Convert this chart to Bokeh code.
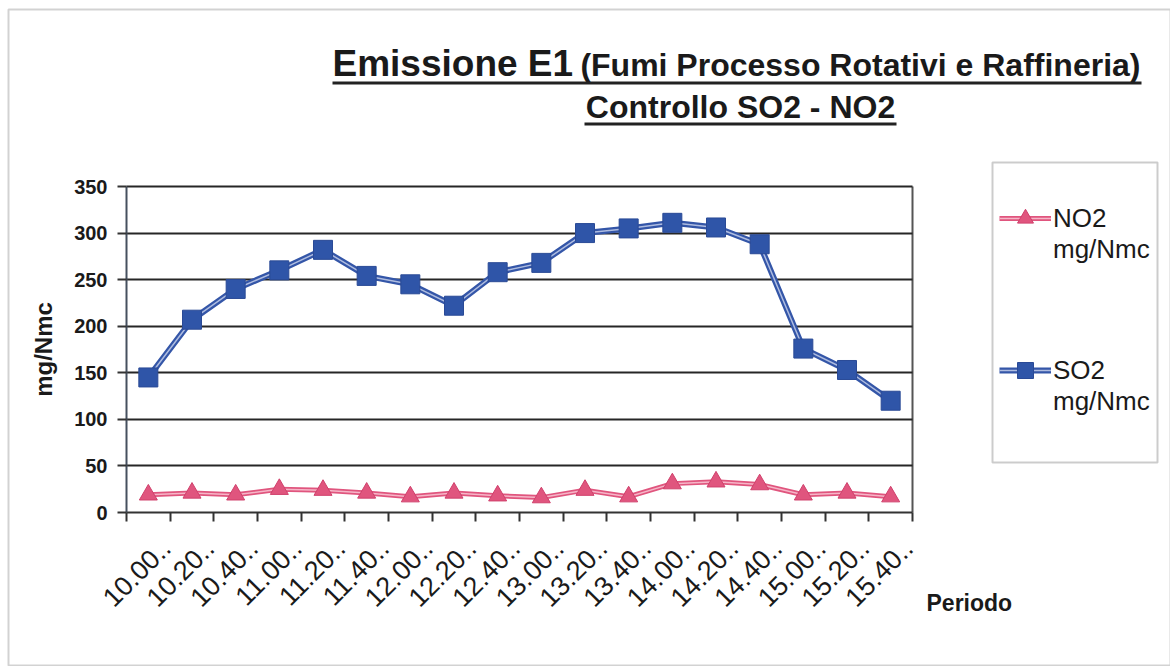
import math
from bokeh.plotting import figure
from bokeh.models import (ColumnDataSource, Label, BoxAnnotation, Legend, LegendItem,
                          FixedTicker, Range1d)
from bokeh.embed import file_html
from bokeh.resources import INLINE

# ---- data ----
periods = ["10.00..", "10.20..", "10.40..", "11.00..", "11.20..", "11.40..",
           "12.00..", "12.20..", "12.40..", "13.00..", "13.20..", "13.40..",
           "14.00..", "14.20..", "14.40..", "15.00..", "15.20..", "15.40.."]
so2 = [145, 207, 240, 260, 282, 254, 245, 222, 258, 268, 300, 305, 311, 306, 288, 176, 153, 120]
no2 = [19, 21, 19, 25, 24, 21, 17, 21, 18, 16, 24, 17, 31, 33, 30, 19, 21, 17]
y_ticks = [0, 50, 100, 150, 200, 250, 300, 350]
y_max = 350

n = len(periods)
xpos = [i + 0.5 for i in range(n)]
src = ColumnDataSource(dict(x=xpos, so2=so2, no2=no2))

# ---- layout constants (pixels) ----
W, H = 1170, 666
OX, OY = 1, 1                       # canvas offset in the page
DL, DR, DT, DB = 127, 913, 187, 513  # data area in page pixels
LABEL_SHIFT = 0.4                   # rotated labels sit a little right of the centre


def sx(X):
    return X - OX


def sy(Y):
    return H - (Y - OY)


ppx = (DR - DL) / n
ppy = (DB - DT) / y_max
x_rng = Range1d(-sx(DL) / ppx, n + (W - sx(DR)) / ppx)
y_rng = Range1d(-(H - sx(DB)) / ppy, y_max + sx(DT) / ppy)

SANS = "Liberation Sans"
INK = "#1a1a1a"

p = figure(width=W, height=H, output_backend="svg", toolbar_location=None,
           x_range=x_rng, y_range=y_rng,
           min_border_left=0, min_border_right=0, min_border_top=0, min_border_bottom=0,
           background_fill_color="white", border_fill_color="white")
p.outline_line_color = None

# grid: horizontal lines across the data area, right border of data area
p.ygrid.ticker = FixedTicker(ticks=y_ticks[1:])
p.ygrid.grid_line_color = "#262626"
p.ygrid.grid_line_width = 2
p.xgrid.ticker = FixedTicker(ticks=[n])
p.xgrid.grid_line_color = "#555555"
p.xgrid.grid_line_width = 2
try:
    p.ygrid.cross_bounds = (0, n)
    p.xgrid.cross_bounds = (0, y_max)
except Exception:
    p.ygrid.visible = False
    p.xgrid.visible = False
    p.segment(x0=0, x1=n, y0=y_ticks[1:], y1=y_ticks[1:], line_color="#262626", line_width=2)
    p.segment(x0=n, x1=n, y0=0, y1=y_max, line_color="#555555", line_width=2)

# y axis
p.yaxis.fixed_location = 0
p.yaxis.bounds = (0, y_max)
p.yaxis.ticker = FixedTicker(ticks=y_ticks)
p.yaxis.axis_line_color = "#46505f"
p.yaxis.axis_line_width = 2
p.yaxis.major_tick_line_color = "#333333"
p.yaxis.major_tick_line_width = 2
p.yaxis.major_tick_out = 9
p.yaxis.major_tick_in = 0
p.yaxis.minor_tick_line_color = None
p.yaxis.major_label_text_font = SANS
p.yaxis.major_label_text_font_style = "bold"
p.yaxis.major_label_text_font_size = "20px"
p.yaxis.major_label_text_color = INK
p.yaxis.major_label_standoff = 10
p.yaxis.axis_label = "mg/Nmc"
p.yaxis.axis_label_text_font = SANS
p.yaxis.axis_label_text_font_style = "bold"
p.yaxis.axis_label_text_font_size = "24px"
p.yaxis.axis_label_text_color = INK
p.yaxis.axis_label_standoff = 14

# x axis: labels near category centres, tick marks at category boundaries
label_pos = [x + LABEL_SHIFT for x in xpos]
p.xaxis.fixed_location = 0
p.xaxis.bounds = (0, n)
p.xaxis.ticker = FixedTicker(ticks=label_pos, minor_ticks=list(range(n + 1)))
p.xaxis.major_label_overrides = {x: lab for x, lab in zip(label_pos, periods)}
p.xaxis.major_label_orientation = math.pi / 4
p.xaxis.axis_line_color = "#333333"
p.xaxis.axis_line_width = 2
p.xaxis.major_tick_line_color = None
p.xaxis.major_tick_out = 0
p.xaxis.major_tick_in = 0
p.xaxis.minor_tick_line_color = "#333333"
p.xaxis.minor_tick_line_width = 2
p.xaxis.minor_tick_out = 9
p.xaxis.minor_tick_in = 0
p.xaxis.major_label_text_font = SANS
p.xaxis.major_label_text_font_size = "27px"
p.xaxis.major_label_text_color = INK
p.xaxis.major_label_standoff = 22

# series
so2_line = p.line("x", "so2", source=src, line_color="#3456A8", line_width=6)
so2_in = p.line("x", "so2", source=src, line_color="#AEBCE0", line_width=1.5)
so2_mk = p.scatter("x", "so2", source=src, marker="square", size=19,
                   fill_color="#2F55A8", line_color="#2A4A96", line_width=1)

no2_line = p.line("x", "no2", source=src, line_color="#E0557E", line_width=5)
no2_in = p.line("x", "no2", source=src, line_color="#F6B6C8", line_width=1.5)
no2_mk = p.scatter("x", "no2", source=src, marker="triangle", size=18,
                   fill_color="#E0557E", line_color="#D0406C", line_width=1)

# legend frame
p.add_layout(BoxAnnotation(left=sx(993), right=sx(1158), top=sy(163), bottom=sy(463),
                           left_units="screen", right_units="screen",
                           top_units="screen", bottom_units="screen",
                           fill_color="white", fill_alpha=1,
                           line_color="#555555", line_width=2))
# legend (leading blank line keeps the glyph level with the first text line)
legend = Legend(items=[LegendItem(label="\nNO2\nmg/Nmc", renderers=[no2_line, no2_in, no2_mk]),
                       LegendItem(label="\nSO2\nmg/Nmc", renderers=[so2_line, so2_in, so2_mk])],
                location=(sx(1000), sy(419)), orientation="vertical",
                border_line_color=None, background_fill_alpha=0,
                padding=0, spacing=56, margin=0, label_height=96,
                glyph_width=52, glyph_height=40, label_standoff=2,
                label_text_font=SANS, label_text_font_size="26px", label_text_color=INK)
p.add_layout(legend)

# titles
p.add_layout(Label(x=sx(333), y=sy(64), x_units="screen", y_units="screen", text="Emissione E1",
                   text_font=SANS, text_font_style="bold", text_font_size="37px",
                   text_color=INK, text_baseline="alphabetic", text_align="left"))
p.add_layout(Label(x=sx(1141), y=sy(65), x_units="screen", y_units="screen",
                   text="(Fumi Processo Rotativi e Raffineria)",
                   text_font=SANS, text_font_style="bold", text_font_size="32px",
                   text_color=INK, text_baseline="alphabetic", text_align="right"))
p.add_layout(Label(x=sx(741), y=sy(107), x_units="screen", y_units="screen",
                   text="Controllo SO2 - NO2",
                   text_font=SANS, text_font_style="bold", text_font_size="32px",
                   text_color=INK, text_baseline="alphabetic", text_align="center"))
# underlines
for (l, r, yy) in [(333, 1142, 83), (585, 897, 124)]:
    p.add_layout(BoxAnnotation(left=sx(l), right=sx(r), top=sy(yy - 1), bottom=sy(yy + 2),
                               left_units="screen", right_units="screen",
                               top_units="screen", bottom_units="screen",
                               fill_color="#222222", fill_alpha=1, line_color=None))

# x axis title
p.add_layout(Label(x=sx(927), y=sy(603), x_units="screen", y_units="screen", text="Periodo",
                   text_font=SANS, text_font_style="bold", text_font_size="23px",
                   text_color=INK, text_baseline="alphabetic", text_align="left"))

# outer chart border
p.add_layout(BoxAnnotation(left=sx(9), right=sx(1171), top=sy(10), bottom=sy(666),
                           left_units="screen", right_units="screen",
                           top_units="screen", bottom_units="screen",
                           fill_alpha=0, line_color="#6a6a6a", line_width=2))

open("out.html", "w").write(file_html(p, INLINE))
